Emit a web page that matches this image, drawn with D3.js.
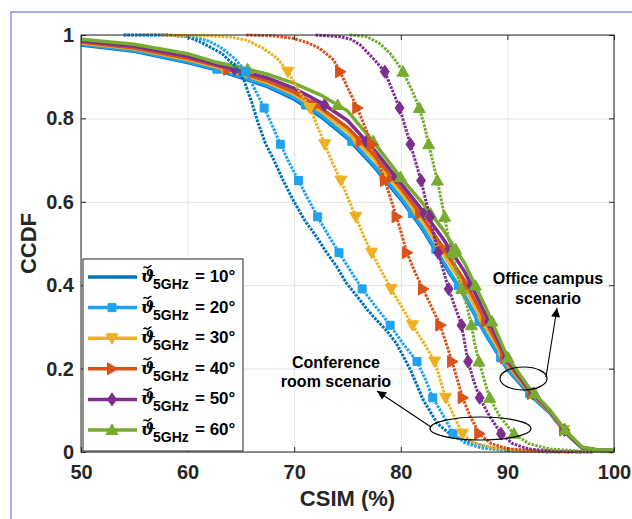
<!DOCTYPE html>
<html>
<head>
<meta charset="utf-8">
<script src="https://cdn.jsdelivr.net/npm/d3@7"></script>
<style>
  html, body { margin: 0; padding: 0; background: #fff; }
  svg { display: block; }
  text { font-family: "Liberation Sans", Arial, Helvetica, sans-serif; }
</style>
</head>
<body>
<div id="chart"></div>
<script>
// ---- data ----------------------------------------------------------------
const angles = [10, 20, 30, 40, 50, 60];
const xTicks = [50, 60, 70, 80, 90, 100];
const yTicks = [0, 0.2, 0.4, 0.6, 0.8, 1];
const yTickLabels = ["0", "0.2", "0.4", "0.6", "0.8", "1"];

// Office campus scenario (solid curves), common CSIM grid
const officeX  = [50, 55, 60, 62.5, 65, 67.5, 70, 72.5, 75, 77.5, 80, 82, 84, 86, 88, 90, 92, 94, 95.5, 97, 98.5, 100];
const office10 = [0.976, 0.961, 0.934, 0.918, 0.898, 0.876, 0.846, 0.804, 0.752, 0.684, 0.606, 0.536, 0.452, 0.372, 0.280, 0.198, 0.140, 0.093, 0.044, 0.010, 0.004, 0.003];
const office20 = [0.978, 0.963, 0.936, 0.920, 0.900, 0.879, 0.850, 0.808, 0.756, 0.688, 0.610, 0.540, 0.456, 0.375, 0.282, 0.200, 0.142, 0.094, 0.045, 0.010, 0.004, 0.003];
const office30 = [0.981, 0.967, 0.941, 0.925, 0.906, 0.886, 0.858, 0.818, 0.768, 0.702, 0.624, 0.556, 0.474, 0.395, 0.300, 0.210, 0.146, 0.096, 0.046, 0.010, 0.004, 0.003];
const office40 = [0.983, 0.969, 0.944, 0.928, 0.909, 0.890, 0.863, 0.825, 0.778, 0.712, 0.633, 0.566, 0.488, 0.410, 0.312, 0.215, 0.148, 0.097, 0.047, 0.010, 0.004, 0.003];
const office50 = [0.986, 0.973, 0.949, 0.931, 0.914, 0.897, 0.872, 0.838, 0.795, 0.725, 0.645, 0.580, 0.510, 0.432, 0.328, 0.222, 0.151, 0.099, 0.048, 0.010, 0.005, 0.004];
const office60 = [0.990, 0.978, 0.955, 0.936, 0.922, 0.906, 0.884, 0.856, 0.818, 0.742, 0.658, 0.598, 0.532, 0.452, 0.345, 0.228, 0.155, 0.100, 0.050, 0.012, 0.005, 0.004];

// Conference room scenario (dotted curves)
const conf10X = [54, 58, 60, 61.3, 63.2, 64.5, 65.3, 66, 66.6, 67.3, 68.1, 68.8, 69.9, 71, 72.1, 73, 74, 74.9, 76, 76.9, 77.7, 78.7, 79.6, 80.9, 82.1, 83.4, 84.9, 86.8, 88.5, 91, 95];
const conf10Y = [1, 1, 0.996, 0.982, 0.956, 0.924, 0.89, 0.84, 0.79, 0.74, 0.70, 0.66, 0.604, 0.555, 0.516, 0.48, 0.444, 0.405, 0.37, 0.34, 0.317, 0.29, 0.26, 0.197, 0.125, 0.069, 0.037, 0.021, 0.01, 0.003, 0];
const conf20X = [54, 58, 60.5, 62, 63, 64.4, 65.4, 66.3, 67.2, 68.0, 68.7, 69.5, 70.4, 71.3, 72.2, 73.2, 74.2, 75.3, 76.4, 77.7, 79, 80.2, 81.5, 82.3, 83, 84, 84.9, 86, 87.5, 90, 94];
const conf20Y = [1, 1, 0.996, 0.985, 0.972, 0.944, 0.914, 0.87, 0.824, 0.78, 0.738, 0.695, 0.651, 0.607, 0.564, 0.52, 0.478, 0.434, 0.39, 0.347, 0.304, 0.26, 0.218, 0.175, 0.13, 0.087, 0.044, 0.022, 0.01, 0.003, 0];
const conf30X = [57.5, 62, 64, 65.5, 67.1, 68.4, 69.4, 70.4, 71.5, 72.2, 72.9, 73.6, 74.4, 75.1, 75.8, 76.5, 77.3, 78.2, 79.1, 80.1, 81.1, 82.2, 83.2, 83.7, 84.2, 85, 85.8, 87, 89, 92, 96];
const conf30Y = [1, 0.998, 0.995, 0.988, 0.968, 0.944, 0.912, 0.868, 0.824, 0.78, 0.736, 0.693, 0.65, 0.606, 0.562, 0.519, 0.476, 0.433, 0.391, 0.347, 0.304, 0.26, 0.216, 0.173, 0.13, 0.086, 0.042, 0.02, 0.008, 0.002, 0];
const conf40X = [65.5, 68, 69.9, 71.2, 72.4, 73.7, 74.3, 75.1, 75.9, 76.6, 77.3, 77.9, 78.5, 79.05, 79.6, 80.1, 80.6, 81.3, 82.1, 82.9, 83.7, 84.25, 84.8, 85.3, 85.8, 86.5, 87.4, 88.5, 90, 93, 97];
const conf40Y = [1, 0.998, 0.992, 0.982, 0.968, 0.94, 0.912, 0.869, 0.826, 0.782, 0.738, 0.695, 0.652, 0.608, 0.564, 0.52, 0.476, 0.433, 0.39, 0.347, 0.304, 0.261, 0.218, 0.174, 0.13, 0.086, 0.042, 0.02, 0.008, 0.002, 0];
const conf50X = [72, 74.3, 75.3, 76.2, 77.4, 78.5, 79.2, 79.9, 80.4, 80.9, 81.4, 81.9, 82.3, 82.75, 83.1, 83.5, 84.0, 84.5, 85.1, 85.7, 86.0, 86.3, 86.8, 87.4, 88.3, 89.4, 90.5, 92, 95, 98];
const conf50Y = [1, 0.996, 0.99, 0.976, 0.944, 0.912, 0.868, 0.824, 0.781, 0.738, 0.695, 0.651, 0.608, 0.564, 0.521, 0.478, 0.434, 0.39, 0.347, 0.304, 0.261, 0.218, 0.174, 0.13, 0.087, 0.044, 0.02, 0.007, 0.001, 0];
const conf60X = [75.2, 76.8, 78.0, 79.0, 79.8, 80.2, 81.0, 81.7, 82.2, 82.6, 83.0, 83.4, 83.75, 84.1, 84.4, 84.8, 85.2, 85.7, 86.2, 86.6, 86.9, 87.3, 87.8, 88.3, 89.2, 90.5, 92, 94, 97, 100];
const conf60Y = [1, 0.996, 0.98, 0.956, 0.928, 0.912, 0.87, 0.828, 0.784, 0.74, 0.697, 0.654, 0.61, 0.566, 0.522, 0.478, 0.435, 0.392, 0.35, 0.308, 0.264, 0.22, 0.176, 0.132, 0.089, 0.046, 0.02, 0.007, 0.002, 0];

// CCDF levels at which markers are placed along each curve
const officeMarkerLevels = [0.918, 0.832, 0.745, 0.659, 0.572, 0.486, 0.399, 0.313, 0.226, 0.14, 0.053];
const confMarkerLevels   = [0.912, 0.825, 0.738, 0.651, 0.564, 0.478, 0.391, 0.304, 0.217, 0.13, 0.044];

// ---- styling ---------------------------------------------------------------
const colors  = ["#0072BD", "#1FA2F0", "#EDB120", "#D95319", "#7E2F8E", "#77AC30"];
const markers = [null, "square", "triDown", "triRight", "diamond", "triUp"];

const W = 632, H = 519;
const M = { left: 81, right: 614, top: 35, bottom: 452 };

const svg = d3.select("#chart").append("svg")
  .attr("width", W).attr("height", H);

// outer figure frame
svg.append("rect")
  .attr("x", 11).attr("y", 12).attr("width", W).attr("height", H)
  .attr("fill", "none").attr("stroke", "#8f8ff2").attr("stroke-width", 1.5);

const x = d3.scaleLinear().domain([50, 100]).range([M.left, M.right]);
const y = d3.scaleLinear().domain([0, 1]).range([M.bottom, M.top]);
const plotW = M.right - M.left, plotH = M.bottom - M.top;

// grid
const grid = svg.append("g").attr("class", "grid");
grid.append("g").attr("transform", `translate(0,${M.bottom})`)
  .call(d3.axisBottom(x).tickValues(xTicks).tickSize(-plotH).tickFormat(""))
  .call(g => g.select(".domain").remove())
  .call(g => g.selectAll("line").attr("stroke", "#e3e3e3").attr("stroke-width", 1));
grid.append("g").attr("transform", `translate(${M.left},0)`)
  .call(d3.axisLeft(y).tickValues(yTicks).tickSize(-plotW).tickFormat(""))
  .call(g => g.select(".domain").remove())
  .call(g => g.selectAll("line").attr("stroke", "#e3e3e3").attr("stroke-width", 1));

// marker shapes
function markerPath(type) {
  switch (type) {
    case "square":   return "M-4,-4H4V4H-4Z";
    case "triDown":  return "M-6,-4.5H6L0,6Z";
    case "triUp":    return "M-6,4.5H6L0,-6Z";
    case "triRight": return "M-4.5,-6V6L6,0Z";
    case "diamond":  return "M0,-6.5L4.5,0L0,6.5L-4.5,0Z";
  }
  return null;
}

// x value where a decreasing curve crosses a CCDF level
function crossing(xs, ys, level) {
  for (let i = 0; i < xs.length - 1; i++) {
    const a = ys[i], b = ys[i + 1];
    if ((a >= level && b <= level) && a !== b) {
      const t = (a - level) / (a - b);
      return xs[i] + t * (xs[i + 1] - xs[i]);
    }
  }
  return null;
}

const line = d3.line().x(d => x(d[0])).y(d => y(d[1]));
const plot = svg.append("g");

const officeSeries = [office10, office20, office30, office40, office50, office60];
const confSeries = [[conf10X, conf10Y], [conf20X, conf20Y], [conf30X, conf30Y],
                    [conf40X, conf40Y], [conf50X, conf50Y], [conf60X, conf60Y]];

function drawMarkers(xs, ys, levels, i) {
  if (!markers[i]) return;
  const pts = levels.map(l => [crossing(xs, ys, l), l]).filter(p => p[0] !== null);
  plot.append("g").selectAll("path").data(pts).join("path")
    .attr("d", markerPath(markers[i]))
    .attr("transform", d => `translate(${x(d[0])},${y(d[1])})`)
    .attr("fill", colors[i]).attr("stroke", colors[i]).attr("stroke-width", 1);
}

// office campus: solid lines
officeSeries.forEach((ys, i) => {
  const pts = officeX.map((v, k) => [v, ys[k]]);
  plot.append("path").datum(pts).attr("d", line)
    .attr("fill", "none").attr("stroke", colors[i])
    .attr("stroke-width", 3.5).attr("stroke-linejoin", "round");
  drawMarkers(officeX, ys, officeMarkerLevels, i);
});

// conference room: dotted lines
confSeries.forEach(([xs, ys], i) => {
  const pts = xs.map((v, k) => [v, ys[k]]);
  plot.append("path").datum(pts).attr("d", line)
    .attr("fill", "none").attr("stroke", colors[i])
    .attr("stroke-width", 3).attr("stroke-dasharray", "2.6,1.2");
  drawMarkers(xs, ys, confMarkerLevels, i);
});

// axes box
const axisColor = "#262626";
svg.append("rect")
  .attr("x", M.left).attr("y", M.top).attr("width", plotW).attr("height", plotH)
  .attr("fill", "none").attr("stroke", axisColor).attr("stroke-width", 1);

const tickStyle = g => {
  g.select(".domain").remove();
  g.selectAll("line").attr("stroke", axisColor);
  g.selectAll("text").attr("fill", axisColor)
    .style("font-size", "20px").style("font-weight", "bold");
};

svg.append("g").attr("transform", `translate(0,${M.bottom})`)
  .call(d3.axisBottom(x).tickValues(xTicks).tickSize(-5).tickPadding(13).tickFormat(d3.format("d")))
  .call(tickStyle);
svg.append("g").attr("transform", `translate(${M.left},0)`)
  .call(d3.axisLeft(y).tickValues(yTicks).tickSize(-5).tickPadding(7)
    .tickFormat((d, i) => yTickLabels[i]))
  .call(tickStyle);
svg.append("g").attr("transform", `translate(0,${M.top})`)
  .call(d3.axisTop(x).tickValues(xTicks).tickSize(-5).tickFormat(""))
  .call(tickStyle);
svg.append("g").attr("transform", `translate(${M.right},0)`)
  .call(d3.axisRight(y).tickValues(yTicks).tickSize(-5).tickFormat(""))
  .call(tickStyle);

// axis titles
svg.append("text")
  .attr("x", (M.left + M.right) / 2).attr("y", 506)
  .attr("text-anchor", "middle").attr("fill", axisColor)
  .style("font-size", "22px").style("font-weight", "bold")
  .text("CSIM (%)");
svg.append("text")
  .attr("transform", `translate(36,${(M.top + M.bottom) / 2}) rotate(-90)`)
  .attr("text-anchor", "middle").attr("fill", axisColor)
  .style("font-size", "22px").style("font-weight", "bold")
  .text("CCDF");

// legend
const legend = svg.append("g");
legend.append("rect")
  .attr("x", 83).attr("y", 259).attr("width", 160).attr("height", 192)
  .attr("fill", "#fff").attr("stroke", axisColor).attr("stroke-width", 1);
angles.forEach((a, i) => {
  const yc = 277 + i * 30.6;
  legend.append("line")
    .attr("x1", 88).attr("x2", 137).attr("y1", yc).attr("y2", yc)
    .attr("stroke", colors[i]).attr("stroke-width", 3.5);
  if (markers[i]) {
    legend.append("path").attr("d", markerPath(markers[i]))
      .attr("transform", `translate(112,${yc})`)
      .attr("fill", colors[i]).attr("stroke", colors[i]);
  }
  // theta, with its tilde accent drawn as a small wave above
  legend.append("text")
    .attr("x", 141).attr("y", yc + 5)
    .style("font-family", "'DejaVu Serif', 'Liberation Serif', serif")
    .style("font-size", "17px").style("font-weight", "bold").style("font-style", "italic")
    .attr("fill", "#000")
    .text("\u03D1");
  legend.append("path")
    .attr("d", `M143.5,${yc - 9} C145,${yc - 12} 147,${yc - 8} 148.5,${yc - 9.5} S151,${yc - 11.5} 151.5,${yc - 11}`)
    .attr("fill", "none").attr("stroke", "#000").attr("stroke-width", 1.4);
  legend.append("text")
    .attr("x", 153).attr("y", yc + 12)
    .style("font-size", "14px").style("font-weight", "bold")
    .attr("fill", "#000")
    .text("5GHz");
  legend.append("text")
    .attr("x", 195).attr("y", yc + 5)
    .style("font-size", "17px").style("font-weight", "bold")
    .attr("fill", "#000")
    .text(`= ${a}\u00B0`);
});

// annotations
const ann = svg.append("g");
svg.append("defs").append("marker")
  .attr("id", "head").attr("viewBox", "0 0 10 10")
  .attr("refX", 10).attr("refY", 5)
  .attr("markerWidth", 11).attr("markerHeight", 9)
  .attr("markerUnits", "userSpaceOnUse")
  .attr("orient", "auto")
  .append("path").attr("d", "M0,0L10,5L0,10Z").attr("fill", "#000");

ann.append("ellipse").attr("cx", 523.5).attr("cy", 378.5).attr("rx", 23.5).attr("ry", 11.5)
  .attr("fill", "none").attr("stroke", "#000").attr("stroke-width", 1.2);
ann.append("line").attr("x1", 546).attr("y1", 377).attr("x2", 557).attr("y2", 308)
  .attr("stroke", "#000").attr("stroke-width", 1.1).attr("marker-end", "url(#head)");
ann.append("ellipse").attr("cx", 480.5).attr("cy", 428.5).attr("rx", 50.5).attr("ry", 11.5)
  .attr("fill", "none").attr("stroke", "#000").attr("stroke-width", 1.2);
ann.append("line").attr("x1", 431).attr("y1", 427).attr("x2", 377).attr("y2", 391)
  .attr("stroke", "#000").attr("stroke-width", 1.1).attr("marker-end", "url(#head)");

const annText = (tx, ty, s) => ann.append("text")
  .attr("x", tx).attr("y", ty).attr("text-anchor", "middle")
  .style("font-size", "16px").style("font-weight", "bold").attr("fill", "#000").text(s);
annText(548, 284, "Office campus");
annText(548, 304, "scenario");
annText(336, 368, "Conference");
annText(336, 387, "room scenario");
</script>
</body>
</html>
